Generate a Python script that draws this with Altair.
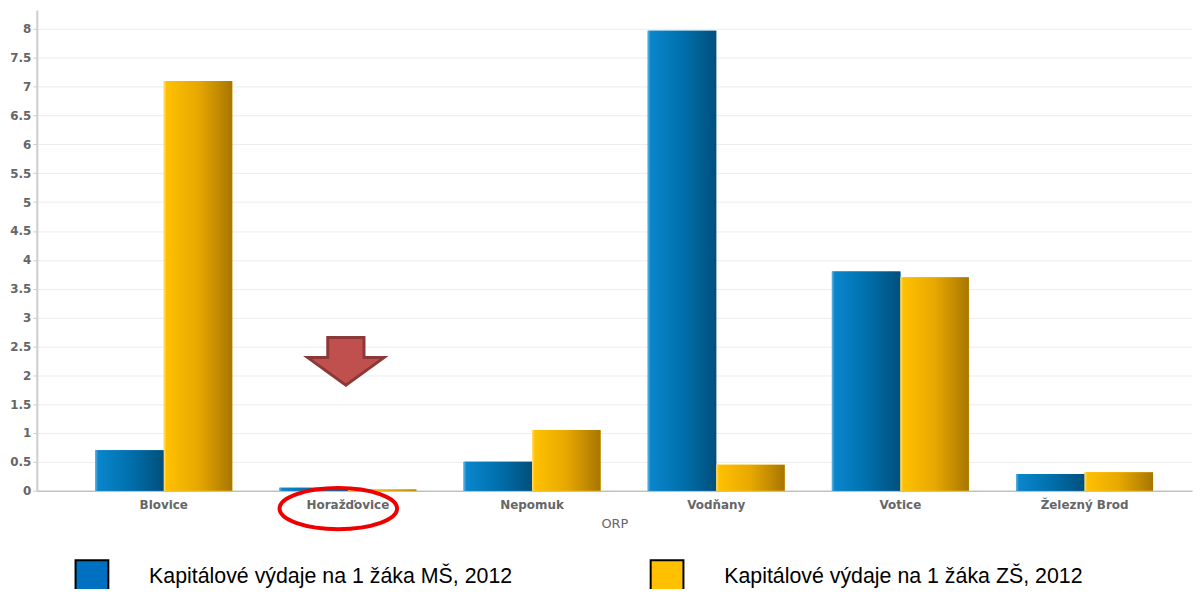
import altair as alt
import pandas as pd

categories = ["Blovice", "Horažďovice", "Nepomuk", "Vodňany", "Votice", "Železný Brod"]
series_names = ["Kapitálové výdaje na 1 žáka MŠ, 2012", "Kapitálové výdaje na 1 žáka ZŠ, 2012"]
ms_values = [0.7, 0.05, 0.5, 7.97, 3.8, 0.29]
zs_values = [7.1, 0.02, 1.05, 0.45, 3.7, 0.32]
y_ticks = [i * 0.5 for i in range(17)]

rows = []
for c, m, z in zip(categories, ms_values, zs_values):
    rows.append({"ORP": c, "serie": series_names[0], "hodnota": m})
    rows.append({"ORP": c, "serie": series_names[1], "hodnota": z})
df = pd.DataFrame(rows)

annot = pd.DataFrame({"ORP": ["Horažďovice"], "arrow_y": [2.24], "ring_y": [-0.31]})

x_scale = alt.Scale(domain=categories, paddingInner=0.256, paddingOuter=0.2645, align=0.60)
y_scale = alt.Scale(domain=[0, 8.33], nice=False, zero=True)
off_scale = alt.Scale(domain=series_names, paddingInner=0.0, paddingOuter=0.0)

x_axis = alt.Axis(labelAngle=0, ticks=False, labelFont="DejaVu Sans", labelFontWeight="bold",
                  labelFontSize=12, labelColor="#666666", labelPadding=9,
                  titleFont="DejaVu Sans", titleFontWeight="normal", titleFontSize=13,
                  titleColor="#666666", titlePadding=7, domainColor="#aaaaaa", domainWidth=1,
                  grid=False)
y_axis = alt.Axis(values=y_ticks, format="~g", labelFont="DejaVu Sans", labelFontWeight="bold",
                  labelFontSize=12, labelColor="#666666", labelPadding=2, tickSize=4,
                  labelOverlap=False, labelFlush=False,
                  tickColor="#cccccc", domainColor="#cccccc", domainWidth=2,
                  gridColor="#ececec", gridWidth=1)


def xe(bp=0.5):
    return alt.X("ORP:N", scale=x_scale, sort=categories, title="ORP", axis=x_axis, bandPosition=bp)


def ye(field):
    return alt.Y(field, type="quantitative", scale=y_scale, title=None, axis=y_axis)


solid = alt.Chart(df).mark_bar().encode(
    x=xe(),
    xOffset=alt.XOffset("serie:N", scale=off_scale, sort=series_names),
    y=ye("hodnota"),
    color=alt.Color(
        "serie:N", sort=series_names,
        scale=alt.Scale(domain=series_names, range=["#0070c0", "#ffc000"]),
        legend=alt.Legend(
            title=None, orient="none", legendX=38, legendY=553, direction="horizontal",
            symbolType="square", symbolSize=1089, symbolStrokeColor="#000000",
            symbolStrokeWidth=2, symbolOpacity=1, labelFont="Liberation Sans",
            labelFontSize=21.5, labelColor="#000000", labelOffset=40, columnPadding=135,
            labelLimit=600,
        ),
    ),
)

grad_base = alt.Chart(df).encode(
    x=xe(),
    xOffset=alt.XOffset("serie:N", scale=off_scale, sort=series_names),
    y=ye("hodnota"),
)

blue_grad = alt.LinearGradient(
    gradient="linear", x1=0, x2=1, y1=0, y2=0,
    stops=[alt.GradientStop(offset=0, color="#6ab4e0"),
           alt.GradientStop(offset=0.04, color="#0a86cc"),
           alt.GradientStop(offset=0.5, color="#0070ad"),
           alt.GradientStop(offset=1, color="#00507c")],
)
orange_grad = alt.LinearGradient(
    gradient="linear", x1=0, x2=1, y1=0, y2=0,
    stops=[alt.GradientStop(offset=0, color="#ffe080"),
           alt.GradientStop(offset=0.04, color="#ffc000"),
           alt.GradientStop(offset=0.5, color="#e8a800"),
           alt.GradientStop(offset=1, color="#a87600")],
)

grad_ms = grad_base.mark_bar(fill=blue_grad).transform_filter(alt.datum.serie == series_names[0])
grad_zs = grad_base.mark_bar(fill=orange_grad).transform_filter(alt.datum.serie == series_names[1])

arrow_path = "M -0.475 -0.625 L 0.475 -0.625 L 0.475 -0.1 L 1 -0.1 L 0 0.625 L -1 -0.1 L -0.475 -0.1 Z"
arrow = alt.Chart(annot).mark_point(
    shape=arrow_path, size=5900, filled=True, fill="#c0504d", stroke="#8c3836",
    strokeWidth=3, opacity=1, fillOpacity=1,
).encode(x=xe(0.485), y=ye("arrow_y"))

ring_path = "M -1 0 A 1 0.35 0 1 0 1 0 A 1 0.35 0 1 0 -1 0 Z"
ring = alt.Chart(annot).mark_point(
    shape=ring_path, size=14000, filled=False, stroke="#ee0000", strokeWidth=4, opacity=1,
).encode(x=xe(0.43), y=ye("ring_y"))

chart = alt.layer(solid, grad_ms, grad_zs, arrow, ring).properties(
    width=1163, height=484,
    autosize=alt.AutoSizeParams(type="none"),
    padding={"left": 29, "top": 0, "right": 3, "bottom": 97},
).configure(background="#ffffff").configure_view(strokeWidth=0)

chart.save("out.html", embed_options={"renderer": "svg", "actions": False})
